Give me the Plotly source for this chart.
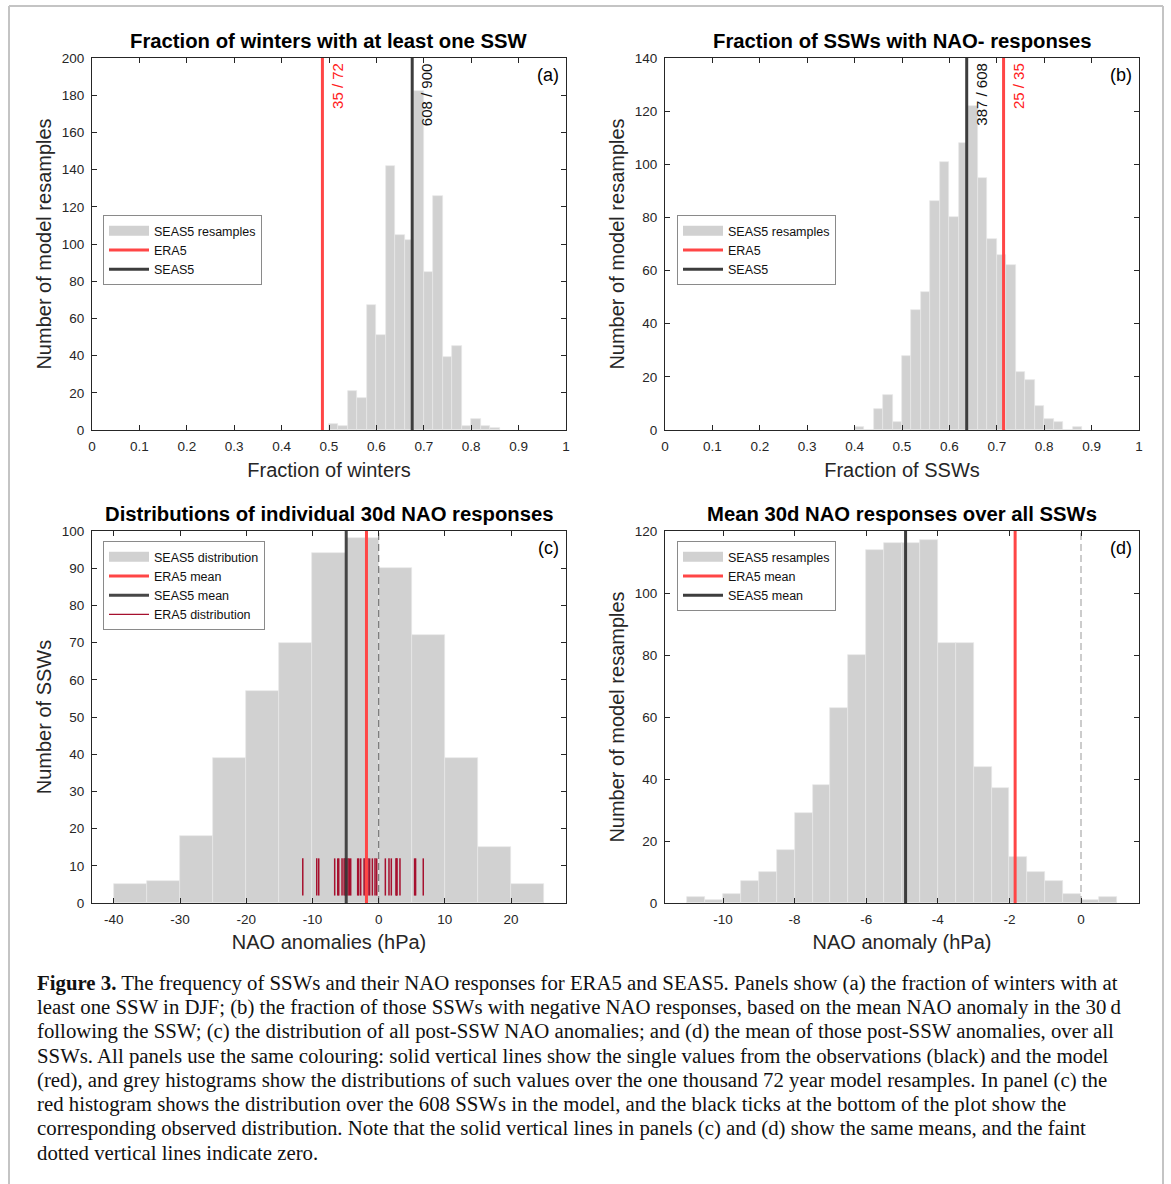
import numpy as np
import plotly.graph_objects as go

W, H = 1171, 1184
SANS = "Liberation Sans, Arial, Helvetica, sans-serif"
SERIF = "Liberation Serif, Times New Roman, serif"

# ---------------- data ----------------
# (a) fraction of winters with at least one SSW
a_bin_start = 0.50
a_bin_width = 0.02
a_counts = [3, 2, 21, 17, 67, 51, 142, 105, 102, 182, 85, 126, 39, 45, 2, 6, 2, 1]
a_era5 = (35, 72)
a_seas5 = (608, 900)
a_xticks = [0, 0.1, 0.2, 0.3, 0.4, 0.5, 0.6, 0.7, 0.8, 0.9, 1]
a_yticks = [0, 20, 40, 60, 80, 100, 120, 140, 160, 180, 200]

# (b) fraction of SSWs with NAO- responses
b_bin_start = 0.40
b_bin_width = 0.02
b_counts = [1, 0, 8, 13, 3, 28, 45, 52, 86, 101, 80, 108, 122, 95, 72, 66, 62, 22, 19, 9, 4, 3, 0, 1]
b_era5 = (25, 35)
b_seas5 = (387, 608)
b_xticks = [0, 0.1, 0.2, 0.3, 0.4, 0.5, 0.6, 0.7, 0.8, 0.9, 1]
b_yticks = [0, 20, 40, 60, 80, 100, 120, 140]

# (c) individual 30d NAO responses (hPa)
c_bin_start = -40
c_bin_width = 5
c_counts = [5, 6, 18, 39, 57, 70, 94, 98, 90, 72, 39, 15, 5]
c_era5_values = [-11.46, -9.35, -9.05, -6.64, -6.18, -6.03, -5.53, -5.22, -5.05, -4.95,
                 -4.87, -4.62, -4.42, -4.22, -3.17, -3.02, -2.71, -2.20, -2.01, -1.85,
                 -1.60, -1.36, -0.95, -0.55, -0.30, 1.01, 1.56, 1.91, 2.62, 2.70,
                 2.77, 3.22, 5.43, 5.58, 6.74]
era5_mean = -1.84
seas5_mean = -4.90
c_xticks = [-40, -30, -20, -10, 0, 10, 20]
c_xticklabels = ["-40", "-30", "-20", "-10", "0", "10", "20"]
c_yticks = [0, 10, 20, 30, 40, 50, 60, 70, 80, 90, 100]

# (d) mean 30d NAO responses over all SSWs (hPa)
d_bin_start = -11.0
d_bin_width = 0.5
d_counts = [2, 1, 3, 7, 10, 17, 29, 38, 63, 80, 114, 116, 116, 117, 84, 84, 44, 37,
            15, 10, 7, 3, 1, 2]
d_xticks = [-10, -8, -6, -4, -2, 0]
d_xticklabels = ["-10", "-8", "-6", "-4", "-2", "0"]
d_yticks = [0, 20, 40, 60, 80, 100, 120]

titles = ["Fraction of winters with at least one SSW",
          "Fraction of SSWs with NAO- responses",
          "Distributions of individual 30d NAO responses",
          "Mean 30d NAO responses over all SSWs"]

caption = [
    "<b>Figure 3.</b> The frequency of SSWs and their NAO responses for ERA5 and SEAS5. Panels show (a) the fraction of winters with at",
    "least one SSW in DJF; (b) the fraction of those SSWs with negative NAO responses, based on the mean NAO anomaly in the 30\u2009d",
    "following the SSW; (c) the distribution of all post-SSW NAO anomalies; and (d) the mean of those post-SSW anomalies, over all",
    "SSWs. All panels use the same colouring: solid vertical lines show the single values from the observations (black) and the model",
    "(red), and grey histograms show the distributions of such values over the one thousand 72 year model resamples. In panel (c) the",
    "red histogram shows the distribution over the 608 SSWs in the model, and the black ticks at the bottom of the plot show the",
    "corresponding observed distribution. Note that the solid vertical lines in panels (c) and (d) show the same means, and the faint",
    "dotted vertical lines indicate zero.",
]

# ---------------- styles ----------------
GREY = "#d1d1d1"
RED = "#ff4646"
DARK = "#3d3d3d"
CRIMSON = "#a6102e"
AXC = "#262626"


def px_x(p):
    return p / W


def px_y(p):
    return 1 - p / H


fig = go.Figure()


def hist(counts, start, width, xa, ya):
    counts = np.asarray(counts, dtype=float)
    centers = start + width * (np.arange(len(counts)) + 0.5)
    fig.add_trace(go.Bar(x=centers, y=counts, width=width,
                         marker=dict(color=GREY, line=dict(color="#e6e6e6", width=0.7)),
                         xaxis=xa, yaxis=ya, showlegend=False, hoverinfo="x+y"))


def vline(x, ymax, color, name, xa, ya, leg, width=3):
    fig.add_trace(go.Scatter(x=[x, x], y=[0, ymax], mode="lines", line=dict(color=color, width=width),
                             name=name, xaxis=xa, yaxis=ya, legend=leg, showlegend=True))


def legend_patch(name, xa, ya, leg):
    fig.add_trace(go.Scatter(x=[None], y=[None], mode="lines", line=dict(color=GREY, width=13),
                             name=name, xaxis=xa, yaxis=ya, legend=leg, showlegend=True))


def zero_line(ymax, xa, ya, color):
    fig.add_trace(go.Scatter(x=[0, 0], y=[0, ymax], mode="lines",
                             line=dict(color=color, width=1.2, dash="7px,4px"),
                             xaxis=xa, yaxis=ya, showlegend=False, hoverinfo="skip"))


# (a)
hist(a_counts, a_bin_start, a_bin_width, "x", "y")
legend_patch("SEAS5 resamples", "x", "y", "legend")
vline(a_era5[0] / a_era5[1], a_yticks[-1], RED, "ERA5", "x", "y", "legend")
vline(a_seas5[0] / a_seas5[1], a_yticks[-1], DARK, "SEAS5", "x", "y", "legend")

# (b)
hist(b_counts, b_bin_start, b_bin_width, "x2", "y2")
legend_patch("SEAS5 resamples", "x2", "y2", "legend2")
vline(b_era5[0] / b_era5[1], b_yticks[-1], RED, "ERA5", "x2", "y2", "legend2")
vline(b_seas5[0] / b_seas5[1], b_yticks[-1], DARK, "SEAS5", "x2", "y2", "legend2")

# (c)
hist(c_counts, c_bin_start, c_bin_width, "x3", "y3")
legend_patch("SEAS5 distribution", "x3", "y3", "legend3")
zero_line(c_yticks[-1], "x3", "y3", "#7a7a7a")
tx, ty = [], []
for v in c_era5_values:
    tx += [v, v, None]
    ty += [2, 12, None]
fig.add_trace(go.Scatter(x=tx, y=ty, mode="lines", line=dict(color=CRIMSON, width=1.5),
                         name="ERA5 distribution", xaxis="x3", yaxis="y3", showlegend=False))
vline(era5_mean, c_yticks[-1], RED, "ERA5 mean", "x3", "y3", "legend3")
vline(seas5_mean, c_yticks[-1], "rgba(55,55,55,0.92)", "SEAS5 mean", "x3", "y3", "legend3")
fig.add_trace(go.Scatter(x=[None], y=[None], mode="lines", line=dict(color=CRIMSON, width=1.2),
                         name="ERA5 distribution", xaxis="x3", yaxis="y3", legend="legend3"))

# (d)
hist(d_counts, d_bin_start, d_bin_width, "x4", "y4")
legend_patch("SEAS5 resamples", "x4", "y4", "legend4")
zero_line(d_yticks[-1], "x4", "y4", "#ababab")
vline(era5_mean, d_yticks[-1], RED, "ERA5 mean", "x4", "y4", "legend4")
vline(seas5_mean, d_yticks[-1], DARK, "SEAS5 mean", "x4", "y4", "legend4")

# ---------------- axes ----------------
xdom_l = [px_x(92), px_x(566)]
xdom_r = [px_x(665), px_x(1139)]
ydom_t = [px_y(430), px_y(58)]
ydom_b = [px_y(903), px_y(531)]


def axis(domain, anchor, rng, tickvals, ticktext=None, title=None, standoff=6):
    d = dict(domain=domain, anchor=anchor, range=rng, tickvals=tickvals, automargin=False,
             showline=True, linecolor=AXC, linewidth=1, mirror="allticks",
             ticks="inside", ticklen=5, tickcolor=AXC, tickwidth=1,
             tickfont=dict(size=13.5, color=AXC, family=SANS),
             showgrid=False, zeroline=False, ticklabelstandoff=4)
    if ticktext is not None:
        d["ticktext"] = ticktext
    if title:
        d["title"] = dict(text=title, font=dict(size=20, color=AXC, family=SANS), standoff=standoff)
    return d


fig.update_layout(
    template="none",
    xaxis=axis(xdom_l, "y", [0, 1], a_xticks, title="Fraction of winters", standoff=9),
    yaxis=axis(ydom_t, "x", [0, 200], a_yticks, title="Number of model resamples", standoff=4),
    xaxis2=axis(xdom_r, "y2", [0, 1], b_xticks, title="Fraction of SSWs", standoff=9),
    yaxis2=axis(ydom_t, "x2", [0, 140], b_yticks, title="Number of model resamples", standoff=4),
    xaxis3=axis(xdom_l, "y3", [-43.3, 28.3], c_xticks, c_xticklabels, title="NAO anomalies (hPa)", standoff=8),
    yaxis3=axis(ydom_b, "x3", [0, 100], c_yticks, title="Number of SSWs", standoff=4),
    xaxis4=axis(xdom_r, "y4", [-11.62, 1.62], d_xticks, d_xticklabels, title="NAO anomaly (hPa)", standoff=8),
    yaxis4=axis(ydom_b, "x4", [0, 120], d_yticks, title="Number of model resamples", standoff=4),
)


def leg(xp, yp):
    return dict(x=px_x(xp), y=px_y(yp), xanchor="left", yanchor="top", bgcolor="white",
                bordercolor="#8a8a8a", borderwidth=1, tracegroupgap=0,
                font=dict(size=12.5, family=SANS, color="#111"), itemwidth=40)


fig.update_layout(
    legend=leg(103, 215), legend2=leg(677, 215), legend3=leg(103, 541), legend4=leg(677, 541),
    width=W, height=H, margin=dict(l=0, r=0, t=0, b=0, pad=0),
    paper_bgcolor="white", plot_bgcolor="white", bargap=0, barmode="overlay",
    font=dict(family=SANS, color=AXC), hovermode="closest",
)

ann = []
# panel titles
for t, cx, cy in zip(titles, [329, 902, 329, 902], [41, 41, 514, 514]):
    ann.append(dict(text="<b>%s</b>" % t, x=px_x(cx), y=px_y(cy), xref="paper", yref="paper",
                    xanchor="center", yanchor="middle", showarrow=False,
                    font=dict(size=20.3, family=SANS, color="#000")))
# panel letters
for lab, rx, cy in zip(["(a)", "(b)", "(c)", "(d)"], [561, 1134, 561, 1134], [75, 75, 548, 548]):
    ann.append(dict(text=lab, x=px_x(rx), y=px_y(cy), xref="paper", yref="paper",
                    xanchor="right", yanchor="middle", showarrow=False,
                    font=dict(size=18, family=SANS, color="#000")))
# fraction labels
for frac, col, xa, ya in [(a_era5, "#ff2020", "x", "y"), (a_seas5, "#111", "x", "y"),
                          (b_era5, "#ff2020", "x2", "y2"), (b_seas5, "#111", "x2", "y2")]:
    ann.append(dict(text="%d / %d" % frac, x=frac[0] / frac[1], y=1, xref=xa, yref=ya + " domain",
                    xanchor="left", yanchor="top", xshift=4, yshift=-3, textangle=-90, showarrow=False,
                    font=dict(size=15, family=SANS, color=col)))
# caption
for i, line in enumerate(caption):
    ann.append(dict(text=line, x=px_x(35), y=px_y(983 + 24.2 * i), xref="paper", yref="paper",
                    xanchor="left", yanchor="middle", showarrow=False,
                    font=dict(size=20.8, family=SERIF, color="#111")))
fig.update_layout(annotations=ann)

# page frame
frame = dict(type="line", xref="paper", yref="paper", line=dict(color="#c4c4c4", width=2))
fig.update_layout(shapes=[
    dict(frame, x0=px_x(9), x1=px_x(9), y0=px_y(6), y1=-0.05),
    dict(frame, x0=px_x(9), x1=px_x(1163), y0=px_y(6), y1=px_y(6)),
    dict(frame, x0=px_x(1163), x1=px_x(1163), y0=px_y(6), y1=-0.05),
])

fig.write_html("out.html", config={"displayModeBar": False},
               post_script="document.body.style.margin='0';document.body.style.overflow='hidden';")
